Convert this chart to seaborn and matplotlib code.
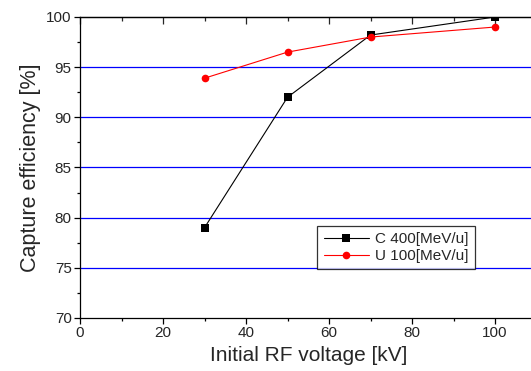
import pandas as pd
import seaborn as sns
import matplotlib.pyplot as plt
from matplotlib.ticker import MultipleLocator

# Data
voltage = [30, 50, 70, 100]
carbon_eff = [79.0, 92.0, 98.2, 100.0]
uranium_eff = [93.9, 96.5, 98.0, 99.0]
series_names = ["C 400[MeV/u]", "U 100[MeV/u]"]
grid_levels = [75, 80, 85, 90, 95]

df = pd.DataFrame({
    "voltage": voltage * 2,
    "efficiency": carbon_eff + uranium_eff,
    "series": [series_names[0]] * 4 + [series_names[1]] * 4,
})

sns.set_style("white")
plt.rcParams["font.family"] = ["Liberation Sans", "DejaVu Sans"]

fig = plt.figure(figsize=(5.31, 3.71), dpi=100)
ax = fig.add_axes([0.1507, 0.1429, 0.8597, 0.8113])

# Blue horizontal reference lines
for lvl in grid_levels:
    ax.axhline(lvl, color="#0000ff", lw=0.9, zorder=0)

sns.lineplot(
    data=df, x="voltage", y="efficiency", hue="series", style="series",
    hue_order=series_names, style_order=series_names,
    palette=["black", "#ff0000"], markers=["s", "o"], dashes=False,
    markersize=5.5, markeredgewidth=0, linewidth=0.8, ax=ax,
)

ax.set_xlim(0, 110)
ax.set_ylim(70, 100)
ax.xaxis.set_major_locator(MultipleLocator(20))
ax.xaxis.set_minor_locator(MultipleLocator(10))
ax.yaxis.set_major_locator(MultipleLocator(5))
ax.yaxis.set_minor_locator(MultipleLocator(2.5))

for side in ["left", "bottom", "top"]:
    ax.spines[side].set_visible(True)
    ax.spines[side].set_color("black")
    ax.spines[side].set_linewidth(0.9)
ax.spines["right"].set_visible(False)

ax.tick_params(axis="both", which="major", direction="out", length=4,
               width=0.9, color="black", labelsize=11, pad=2,
               left=True, bottom=True)
ax.tick_params(axis="both", which="minor", direction="out", length=2.5,
               width=0.9, color="black", left=True, bottom=True)

# Inward ticks along the top edge
top = ax.secondary_xaxis("top")
top.xaxis.set_major_locator(MultipleLocator(20))
top.xaxis.set_minor_locator(MultipleLocator(10))
top.tick_params(which="major", direction="in", length=5, width=0.9, labeltop=False)
top.tick_params(which="minor", direction="in", length=3, width=0.9)
top.spines["top"].set_linewidth(0.9)

ax.set_xlabel("Initial RF voltage [kV]", fontsize=15, labelpad=4)
ax.set_ylabel("Capture efficiency [%]", fontsize=15.5, labelpad=4)

leg = ax.legend(loc="lower left", bbox_to_anchor=(0.52, 0.162), fontsize=11,
                frameon=True, fancybox=False, edgecolor="black",
                handlelength=3.0, borderpad=0.4, labelspacing=0.2,
                handletextpad=0.4, borderaxespad=0)
leg.get_frame().set_linewidth(0.9)

fig.savefig("out.png", dpi=100)
plt.close(fig)
